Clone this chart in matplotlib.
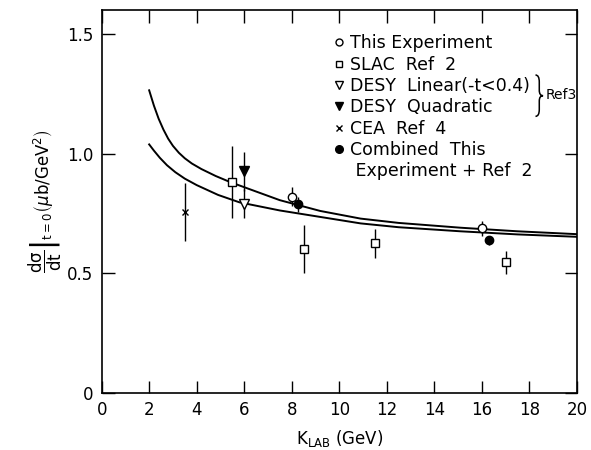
"""Forward photoproduction cross section vs beam energy."""

import matplotlib
matplotlib.use("Agg")
import matplotlib.pyplot as plt
from matplotlib.lines import Line2D
from matplotlib.path import Path
from matplotlib.patches import PathPatch

# curves
upper_x = [2.0, 2.2, 2.4, 2.6, 2.8, 3.0, 3.25, 3.5, 3.8, 4.2, 4.8, 5.4, 6.2,
           7.5, 9.2, 10.9, 12.5, 15.1, 17.5, 20.0]
upper_y = [1.264, 1.200, 1.145, 1.100, 1.062, 1.032, 1.003, 0.980, 0.958,
           0.935, 0.906, 0.881, 0.852, 0.805, 0.76, 0.728, 0.71, 0.69, 0.675,
           0.663]
lower_x = [2.0, 2.2, 2.45, 2.75, 3.1, 3.5, 4.0, 4.9, 5.8, 7.5, 9.2, 10.9,
           12.5, 15.1, 17.5, 20.0]
lower_y = [1.038, 1.012, 0.982, 0.951, 0.922, 0.895, 0.868, 0.827, 0.796,
           0.762, 0.735, 0.708, 0.692, 0.675, 0.662, 0.652]

# data points (x, y, +-err)
this_x = [8.0, 16.0]
this_y = [0.82, 0.687]
this_err = [0.04, 0.03]

slac_x = [5.5, 8.5, 11.5, 17.0]
slac_y = [0.88, 0.60, 0.625, 0.545]
slac_err = [0.15, 0.10, 0.06, 0.047]

desy_lin_x = [6.0]
desy_lin_y = [0.79]
desy_lin_err = [0.06]

desy_quad_x = [6.0]
desy_quad_y = [0.925]
desy_quad_err = [0.08]

cea_x = [3.5]
cea_y = [0.755]
cea_err = [0.12]

comb_x = [8.25, 16.3]
comb_y = [0.787, 0.637]
comb_err = [0.03, 0.02]

plt.rcParams['font.family'] = ['DejaVu Sans']
plt.rcParams['mathtext.fontset'] = 'dejavusans'

fig = plt.figure(figsize=(5.91, 4.5), dpi=100)
ax = fig.add_axes([0.172, 0.127, 0.804, 0.851])

ax.plot(upper_x, upper_y, color='black', lw=1.4, solid_joinstyle='round')
ax.plot(lower_x, lower_y, color='black', lw=1.4, solid_joinstyle='round')

common = dict(color='black', ecolor='black', elinewidth=1.0, capsize=0,
              linestyle='none', markeredgewidth=1.0, zorder=3)
ax.errorbar(this_x, this_y, yerr=this_err, marker='o', ms=6,
            mfc='white', **common)
ax.errorbar(slac_x, slac_y, yerr=slac_err, marker='s', ms=6,
            mfc='white', **common)
ax.errorbar(desy_lin_x, desy_lin_y, yerr=desy_lin_err, marker='v', ms=7.5,
            mfc='white', **common)
ax.errorbar(desy_quad_x, desy_quad_y, yerr=desy_quad_err, marker='v', ms=7.5,
            mfc='black', **common)
ax.errorbar(cea_x, cea_y, yerr=cea_err, marker='x', ms=5, **common)
ax.errorbar(comb_x, comb_y, yerr=comb_err, marker='o', ms=6,
            mfc='black', **common)

ax.set_xlim(0, 20)
ax.set_ylim(0, 1.6)
ax.set_xticks(range(0, 21, 2))
ax.set_yticks([0, 0.5, 1.0, 1.5])
ax.set_yticklabels(['0', '0.5', '1.0', '1.5'])
ax.tick_params(direction='in', length=9, width=1.0, top=True, right=True,
               labelsize=12, pad=6)
for s in ax.spines.values():
    s.set_linewidth(1.2)

ax.set_xlabel(r'K$_{\mathrm{LAB}}$ (GeV)', fontsize=12, labelpad=6)
ax.set_ylabel(r'$\left.\dfrac{\mathrm{d\sigma}}{\mathrm{dt}}\right|_{\mathrm{t=0}}'
              r'\left(\mu\mathrm{b/GeV}^2\right)$',
              fontsize=12, labelpad=2)

# legend
handles = [
    Line2D([], [], ls='none', marker='o', ms=5, mfc='white', mec='black'),
    Line2D([], [], ls='none', marker='s', ms=5, mfc='white', mec='black'),
    Line2D([], [], ls='none', marker='v', ms=5.5, mfc='white', mec='black'),
    Line2D([], [], ls='none', marker='v', ms=5.5, mfc='black', mec='black'),
    Line2D([], [], ls='none', marker='x', ms=4.5, mec='black'),
    Line2D([], [], ls='none', marker='o', ms=5.5, mfc='black', mec='black'),
    Line2D([], [], ls='none'),
]
labels = ['This Experiment', 'SLAC  Ref  2', 'DESY  Linear(-t<0.4)',
          'DESY  Quadratic', 'CEA  Ref  4', 'Combined  This',
          ' Experiment + Ref  2']
leg = ax.legend(handles, labels, loc='upper left',
                bbox_to_anchor=(0.489, 0.936), frameon=False, fontsize=12.5,
                handlelength=0.6, handletextpad=0.3, labelspacing=0.19,
                borderpad=0, borderaxespad=0)

# curly brace grouping the two DESY entries
xl, xm, xr = 0.913, 0.921, 0.929
yt, ym, yb = 0.830, 0.776, 0.722
verts = [(xl, yt), (xm, yt), (xm, yt - 0.018), (xm, ym + 0.014),
         (xm, ym), (xr, ym), (xm, ym), (xm, ym - 0.014),
         (xm, yb + 0.018), (xm, yb), (xl, yb)]
codes = [Path.MOVETO, Path.CURVE3, Path.CURVE3, Path.LINETO,
         Path.CURVE3, Path.CURVE3, Path.CURVE3, Path.CURVE3,
         Path.LINETO, Path.CURVE3, Path.CURVE3]
ax.add_patch(PathPatch(Path(verts, codes), transform=ax.transAxes,
                       fill=False, lw=1.1, edgecolor='black'))
ax.text(0.934, 0.778, 'Ref3', transform=ax.transAxes, fontsize=10,
        ha='left', va='center')

fig.savefig('out.png', dpi=100)
